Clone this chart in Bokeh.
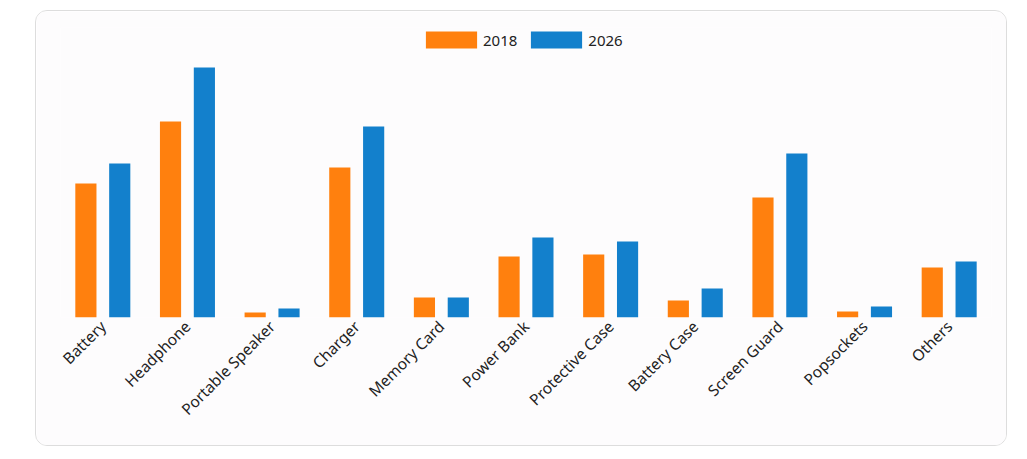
import math
from bokeh.plotting import figure
from bokeh.models import ColumnDataSource, FactorRange, Legend, LegendItem
from bokeh.transform import dodge
from bokeh.embed import file_html
from bokeh.resources import INLINE

categories = ["Battery", "Headphone", "Portable Speaker", "Charger", "Memory Card",
              "Power Bank", "Protective Case", "Battery Case", "Screen Guard",
              "Popsockets", "Others"]
values_2018 = [134, 196, 5, 150, 20, 61, 63, 17, 120, 6, 50]
values_2026 = [154, 250, 9, 191, 20, 80, 76, 29, 164, 11, 56]
series_names = ["2018", "2026"]
colors = ["#ff800e", "#1380cc"]

src = ColumnDataSource(dict(cat=categories, v2018=values_2018, v2026=values_2026))

p = figure(x_range=FactorRange(*categories, range_padding=0), y_range=(0, 290),
           width=972, height=436, output_backend="svg", toolbar_location=None,
           min_border_left=24, min_border_right=17, min_border_top=16, min_border_bottom=130,
           margin=(10, 0, 0, 35))
p.styles = {"border": "1px solid #dddddd", "border-radius": "12px", "overflow": "hidden"}
p.background_fill_color = "#fdfcfd"
p.border_fill_color = "#fdfcfd"
p.outline_line_color = None

r1 = p.vbar(x=dodge("cat", -0.2, range=p.x_range), top="v2018", width=0.25, source=src,
            fill_color=colors[0], line_color=None)
r2 = p.vbar(x=dodge("cat", 0.2, range=p.x_range), top="v2026", width=0.25, source=src,
            fill_color=colors[1], line_color=None)

legend = Legend(items=[LegendItem(label=series_names[0], renderers=[r1]),
                       LegendItem(label=series_names[1], renderers=[r2])],
                orientation="horizontal", location=(359, 267),
                glyph_width=64, glyph_height=21, label_text_font="Noto Sans",
                label_text_font_size="15px", label_text_color="#222222",
                background_fill_alpha=0, border_line_color=None,
                spacing=7, label_standoff=0, margin=0, padding=6)
p.add_layout(legend)

p.yaxis.visible = False
p.grid.visible = False
p.xaxis.axis_line_color = None
p.xaxis.major_tick_line_color = None
p.xaxis.minor_tick_line_color = None
p.xaxis.major_label_orientation = math.pi / 4
p.xaxis.major_label_text_font = "Noto Sans"
p.xaxis.major_label_text_font_size = "15.5px"
p.xaxis.major_label_text_color = "#222222"
p.xaxis.major_label_standoff = 0

open("out.html", "w").write(file_html(p, INLINE))
